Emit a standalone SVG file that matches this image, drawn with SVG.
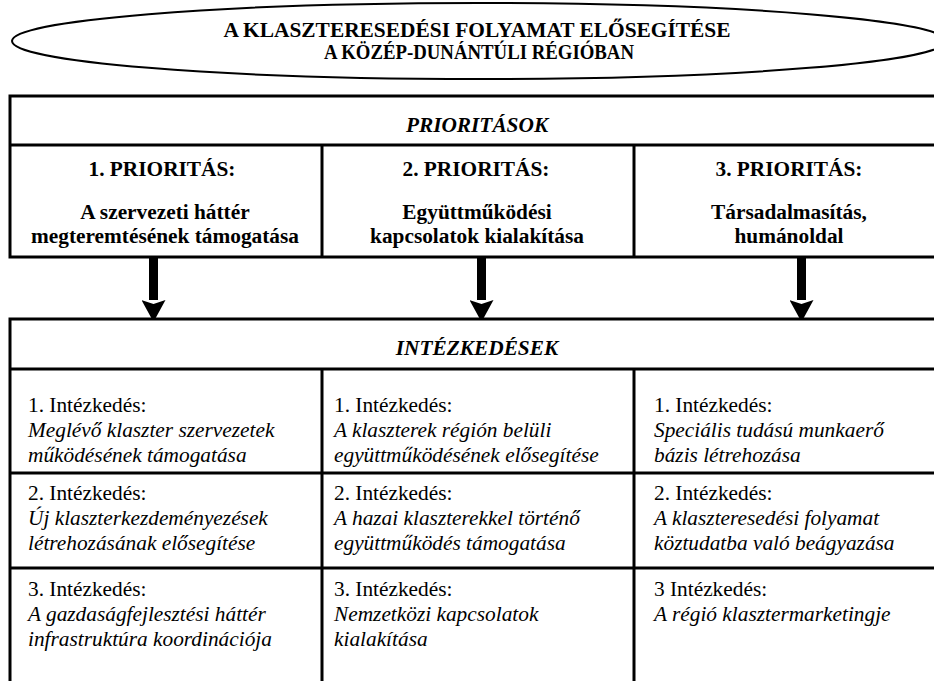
<svg xmlns="http://www.w3.org/2000/svg" width="934" height="681" viewBox="0 0 934 681">
<style>
.title{font-size:21px;font-weight:bold;text-anchor:middle}
.head{font-size:21.33px;font-weight:bold;font-style:italic;text-anchor:middle}
.prio{font-size:21.33px;font-weight:bold;text-anchor:middle}
.cell{font-size:21.33px}
.it{font-style:italic}
.frame{fill:#fff;stroke:#000;stroke-width:3}
.ln{stroke:#000;stroke-width:3;fill:none}
.arrow{stroke:#000;stroke-width:9;marker-end:url(#head)}
</style>
<defs>
<marker id="head" markerUnits="userSpaceOnUse" markerWidth="22" markerHeight="24" refX="0" refY="12" orient="auto" viewBox="0 0 22 24">
<path d="M0,0 L22,12 L0,24 L4,12 z" fill="#000"/>
</marker>
</defs>
<rect width="934" height="681" fill="#fff"/>
<g font-family="Liberation Serif, Times New Roman, DejaVu Serif, serif" fill="#000">
<g id="title">
<ellipse cx="479" cy="41" rx="467" ry="38" fill="#fff" stroke="#000" stroke-width="2"/>
<text class="title" x="477" y="37" textLength="507" lengthAdjust="spacingAndGlyphs">A KLASZTERESEDÉSI FOLYAMAT ELŐSEGÍTÉSE</text>
<text class="title" x="479" y="59" textLength="310" lengthAdjust="spacingAndGlyphs">A KÖZÉP-DUNÁNTÚLI RÉGIÓBAN</text>
</g>
<g id="priorities">
<rect class="frame" x="10" y="96" width="936" height="161"/>
<line class="ln" x1="10" y1="145" x2="946" y2="145"/>
<line class="ln" x1="322" y1="145" x2="322" y2="257"/>
<line class="ln" x1="634" y1="145" x2="634" y2="257"/>
<text class="head" x="477" y="132">PRIORITÁSOK</text>
<g id="prio1">
<text class="prio" x="162" y="176">1. PRIORITÁS:</text>
<text class="prio" x="165" y="219">A szervezeti háttér</text>
<text class="prio" x="165" y="243">megteremtésének támogatása</text>
</g>
<g id="prio2">
<text class="prio" x="476" y="176">2. PRIORITÁS:</text>
<text class="prio" x="477" y="219">Együttműködési</text>
<text class="prio" x="477" y="243">kapcsolatok kialakítása</text>
</g>
<g id="prio3">
<text class="prio" x="789" y="176">3. PRIORITÁS:</text>
<text class="prio" x="789" y="219">Társadalmasítás,</text>
<text class="prio" x="789" y="243">humánoldal</text>
</g>
</g>
<g id="connectors">
<line class="arrow" x1="153.5" y1="258" x2="153.5" y2="300"/>
<line class="arrow" x1="481.5" y1="258" x2="481.5" y2="300"/>
<line class="arrow" x1="801.5" y1="258" x2="801.5" y2="300"/>
</g>
<g id="measures">
<rect class="frame" x="10" y="319" width="936" height="380"/>
<line class="ln" x1="10" y1="369" x2="946" y2="369"/>
<line class="ln" x1="10" y1="473" x2="946" y2="473"/>
<line class="ln" x1="10" y1="568" x2="946" y2="568"/>
<line class="ln" x1="322" y1="369" x2="322" y2="700"/>
<line class="ln" x1="634" y1="369" x2="634" y2="700"/>
<text class="head" x="477" y="355">INTÉZKEDÉSEK</text>
<g id="m1-1"><text class="cell" x="28" y="412">1. Intézkedés:</text><text class="cell it" x="28" y="437">Meglévő klaszter szervezetek</text><text class="cell it" x="28" y="462">működésének támogatása</text></g>
<g id="m2-1"><text class="cell" x="334" y="412">1. Intézkedés:</text><text class="cell it" x="334" y="437">A klaszterek régión belüli</text><text class="cell it" x="334" y="462">együttműködésének elősegítése</text></g>
<g id="m3-1"><text class="cell" x="654" y="412">1. Intézkedés:</text><text class="cell it" x="654" y="437">Speciális tudású munkaerő</text><text class="cell it" x="654" y="462">bázis létrehozása</text></g>
<g id="m1-2"><text class="cell" x="28" y="500">2. Intézkedés:</text><text class="cell it" x="28" y="525">Új klaszterkezdeményezések</text><text class="cell it" x="28" y="550">létrehozásának elősegítése</text></g>
<g id="m2-2"><text class="cell" x="334" y="500">2. Intézkedés:</text><text class="cell it" x="334" y="525">A hazai klaszterekkel történő</text><text class="cell it" x="334" y="550">együttműködés támogatása</text></g>
<g id="m3-2"><text class="cell" x="654" y="500">2. Intézkedés:</text><text class="cell it" x="654" y="525">A klaszteresedési folyamat</text><text class="cell it" x="654" y="550">köztudatba való beágyazása</text></g>
<g id="m1-3"><text class="cell" x="28" y="596">3. Intézkedés:</text><text class="cell it" x="28" y="621">A gazdaságfejlesztési háttér</text><text class="cell it" x="28" y="646">infrastruktúra koordinációja</text></g>
<g id="m2-3"><text class="cell" x="334" y="596">3. Intézkedés:</text><text class="cell it" x="334" y="621">Nemzetközi kapcsolatok</text><text class="cell it" x="334" y="646">kialakítása</text></g>
<g id="m3-3"><text class="cell" x="654" y="596">3 Intézkedés:</text><text class="cell it" x="654" y="621">A régió klasztermarketingje</text></g>
</g>
</g>
</svg>
